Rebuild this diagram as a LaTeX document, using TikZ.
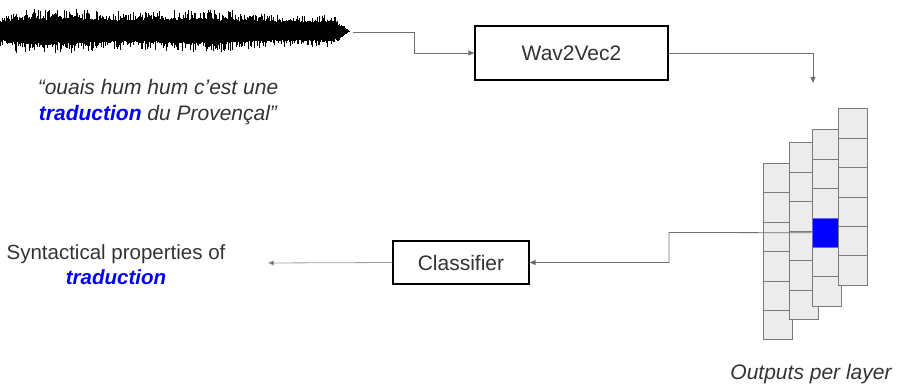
\documentclass[tikz,border=0pt]{standalone}
\usepackage{fontspec}
\setmainfont{Liberation Sans}
\usetikzlibrary{arrows.meta}
\definecolor{txt}{HTML}{333333}
\definecolor{conn}{HTML}{707070}
\definecolor{connlight}{HTML}{A0A0A0}
\definecolor{cellfill}{HTML}{ECECEC}
\definecolor{celldraw}{HTML}{7A7A7A}
\definecolor{hl}{HTML}{0000FF}
\tikzset{
  procbox/.style={draw=black, line width=1.2pt, fill=white, text=txt, font=\fontsize{21}{25}\selectfont, inner sep=0pt},
  cellbox/.style={draw=celldraw, fill=cellfill, line width=0.8pt, minimum width=29pt, minimum height=29.4pt, inner sep=0pt, anchor=north west},
  hlcell/.style={cellbox, fill=hl, draw=hl!60!white},
  wire/.style={draw=conn, line width=0.8pt, -{Triangle[length=6pt,width=5pt,fill=conn]}},
  wirelight/.style={draw=connlight, line width=0.8pt, -{Triangle[length=6pt,width=5pt,fill=conn!80!black]}},
  lbl/.style={text=txt, font=\fontsize{21}{26}\selectfont\itshape, align=center, inner sep=0pt}
}
\begin{document}
\begin{tikzpicture}[x=1pt,y=-1pt]
\useasboundingbox (0,0) rectangle (899,387);

% waveform
\pgfmathsetseed{11}
\foreach \x in {0,0.5,...,349}{
  \pgfmathsetmacro\envL{min(1,0.8+\x/40)}
  \pgfmathsetmacro\envR{min(1,(349-\x)/16)}
  \pgfmathsetmacro\mod{1+0.1*sin(\x*2.1)+0.1*sin(\x*0.9)}
  \pgfmathsetmacro\ra{rnd}
  \pgfmathsetmacro\rb{rnd}
  \pgfmathsetmacro\rc{rnd}
  \pgfmathsetmacro\rd{rnd}
  \pgfmathsetmacro\up{\envL*\envR*\mod*(9+2.5*\rc+9*\ra*\ra*\ra*\ra)}
  \pgfmathsetmacro\dn{\envL*\envR*\mod*(9+2.5*\rd+9*\rb*\rb*\rb*\rb)}
  \draw[black, line width=0.8pt] (\x,31-\up-0.3) -- (\x,31+\dn+0.3);
}
\coordinate (wave) at (353,32);

% boxes
\node[procbox, minimum width=193pt, minimum height=54pt] (w2v) at (571.5,53) {Wav2Vec2};
\node[procbox, minimum width=136pt, minimum height=43pt] (cls) at (461,262.5) {Classifier};

% grid of layer outputs
\foreach \c/\cx/\cy in {1/763/163, 2/788.5/142.5, 3/811.5/129.5}{
  \foreach \r in {1,...,6}{
    \node[cellbox] (cell-\c-\r) at (\cx, {\cy+(\r-1)*29.4}) {};
  }
}
\node[hlcell] (blue) at (811.5, {129.5+3*29.4}) {};
\foreach \r in {1,...,6}{
  \node[cellbox] (cell-4-\r) at (837.5, {108.5+(\r-1)*29.4}) {};
}

% texts
\node[lbl] (quote) at (158,102) {\textquotedblleft ouais hum hum c'est une\\{\bfseries\color{hl}traduction} du Provençal\textquotedblright};
\node[lbl, font=\fontsize{20.5}{25}\selectfont] (synt) at (116,265) {Syntactical properties of\\{\bfseries\itshape\color{hl}traduction}};
\node[lbl] (outs) at (811,374) {Outputs per layer};

% connectors
\coordinate (tip1) at (813,83);
\coordinate (bend) at (669,232.4);
\coordinate (outtip) at (268,263);
\draw[wire] (wave) -- (414,32) |- (w2v.west);
\draw[wire] (w2v.east) -| (tip1);
\draw[wirelight, draw=conn] (blue.west) -- (bend) |- (cls.east);
\draw[wirelight] (cls.west) -- (outtip);
\end{tikzpicture}
\end{document}
